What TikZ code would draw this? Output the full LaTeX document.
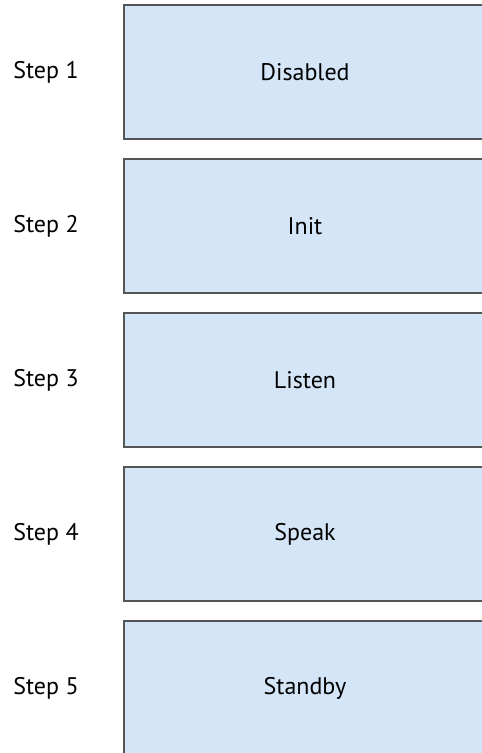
\documentclass[tikz,border=0pt]{standalone}
\usepackage{fontspec}
\setmainfont{PT Sans}
\usetikzlibrary{positioning}
\definecolor{statefill}{HTML}{D3E5F6}
\definecolor{stateline}{HTML}{555555}
\tikzset{
  statebox/.style={draw=stateline, line width=1.6pt, fill=statefill,
    minimum width=362pt, minimum height=134pt, inner sep=0pt,
    font=\fontsize{24}{28}\selectfont},
  steplabel/.style={font=\fontsize{24}{28}\selectfont}
}
\begin{document}
\begin{tikzpicture}[x=1pt,y=1pt]
  \useasboundingbox (0,0) rectangle (482,-753);
  \clip (0,0) rectangle (482,-753);
  % one box per step, label on the left
  \foreach \name/\k in {Disabled/1,Init/2,Listen/3,Speak/4,Standby/5}{
    \node[statebox] (s\k) at (305,{-72-154*(\k-1)}) {\name};
    \node[steplabel] (l\k) at (46,{-72-154*(\k-1)}) {Step \k};
  }
\end{tikzpicture}
\end{document}
